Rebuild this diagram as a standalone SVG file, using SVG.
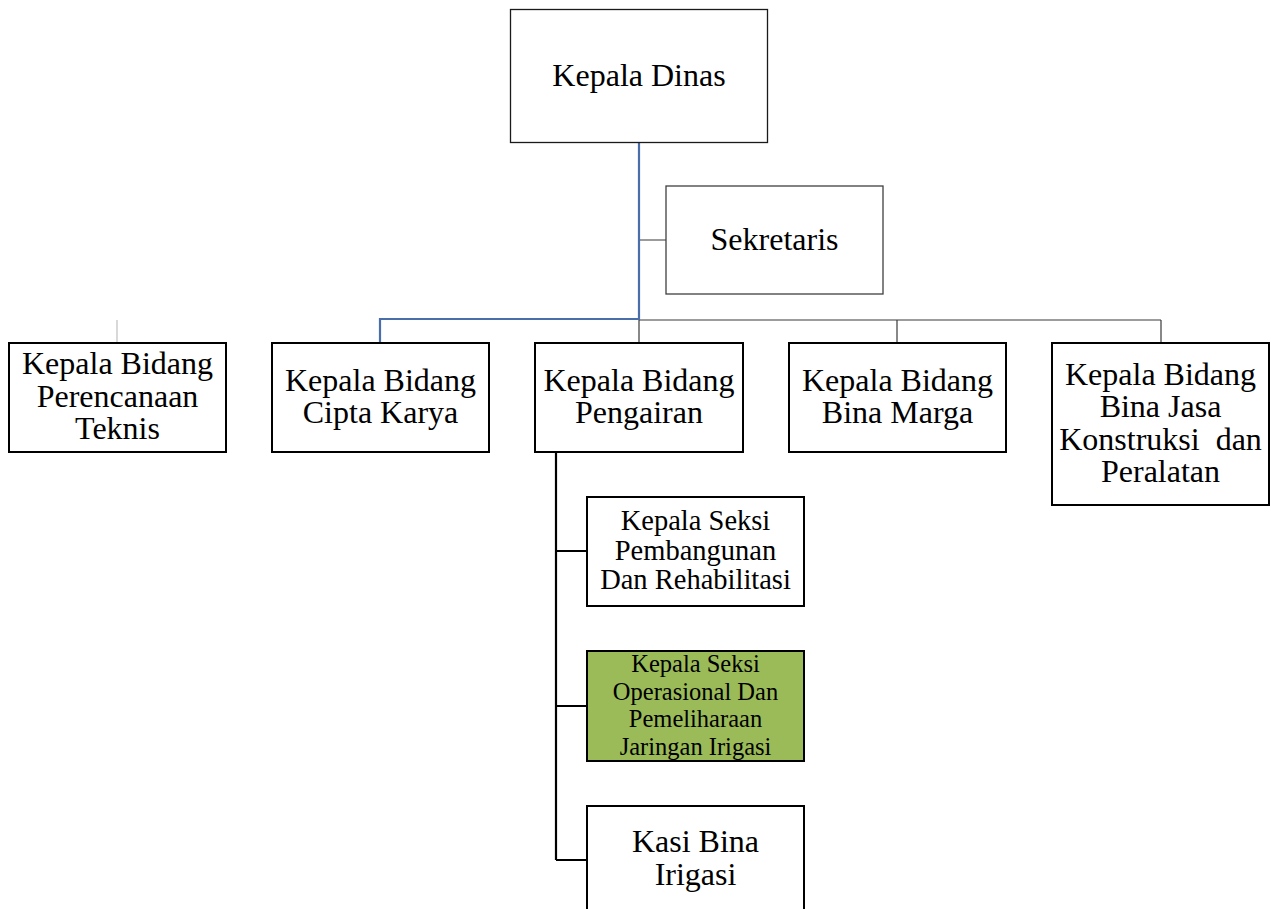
<svg xmlns="http://www.w3.org/2000/svg" width="1271" height="909" viewBox="0 0 1271 909">
  <style>
    text { font-family: "Liberation Serif", "Times New Roman", serif; fill: #000; text-anchor: middle; }
    .t32 { font-size: 32px; }
    .t28 { font-size: 28.5px; }
    .t25 { font-size: 24.5px; }
    .thin { fill: #fff; stroke: #1a1a1a; stroke-width: 1.3; }
    .box { fill: #fff; stroke: #000; stroke-width: 2; }
    .green { fill: #9bbb59; stroke: #000; stroke-width: 2; }
  </style>
  <rect width="1271" height="909" fill="#fff"/>

  <g id="connectors" fill="none">
    <!-- top rail to the heads of division -->
    <path d="M639 320 H1161 M897 320 V343 M1161 320 V343 M639 320 V343" stroke="#3a3a3a" stroke-width="1.2"/>
    <path d="M117 320 V343" stroke="#bfbfbf" stroke-width="1.2"/>
    <path d="M639 240 H666" stroke="#595959" stroke-width="1.2"/>
    <!-- main line from Kepala Dinas -->
    <path d="M639 143 V319 H380 V343" stroke="#4a6ea9" stroke-width="2.2"/>
    <!-- Pengairan sections -->
    <path d="M556 452 V860 M556 551 H587 M556 706 H587 M556 860 H587" stroke="#000" stroke-width="2.2"/>
  </g>

  <g id="kepala-dinas">
    <rect class="thin" x="510.5" y="9.5" width="257" height="133"/>
    <text class="t32" x="639" y="86">Kepala Dinas</text>
  </g>

  <g id="sekretaris">
    <rect x="666" y="186" width="217" height="108" fill="#fff" stroke="#404040" stroke-width="1.3"/>
    <text class="t32" x="774.5" y="250">Sekretaris</text>
  </g>

  <g id="perencanaan">
    <rect class="box" x="9" y="343" width="217" height="109"/>
    <text class="t32" x="117.5" y="374">Kepala Bidang</text>
    <text class="t32" x="117.5" y="407">Perencanaan</text>
    <text class="t32" x="117.5" y="439">Teknis</text>
  </g>

  <g id="cipta-karya">
    <rect class="box" x="272" y="343" width="217" height="109"/>
    <text class="t32" x="380.5" y="391">Kepala Bidang</text>
    <text class="t32" x="380.5" y="423">Cipta Karya</text>
  </g>

  <g id="pengairan">
    <rect class="box" x="535" y="343" width="208" height="109"/>
    <text class="t32" x="639" y="391">Kepala Bidang</text>
    <text class="t32" x="639" y="423">Pengairan</text>
  </g>

  <g id="bina-marga">
    <rect class="box" x="789" y="343" width="217" height="109"/>
    <text class="t32" x="897.5" y="391">Kepala Bidang</text>
    <text class="t32" x="897.5" y="423">Bina Marga</text>
  </g>

  <g id="bina-jasa">
    <rect class="box" x="1052" y="343" width="217" height="162"/>
    <text class="t32" x="1160.5" y="385">Kepala Bidang</text>
    <text class="t32" x="1160.5" y="417">Bina Jasa</text>
    <text class="t32" x="1160.5" y="450" xml:space="preserve">Konstruksi  dan</text>
    <text class="t32" x="1160.5" y="482">Peralatan</text>
  </g>

  <g id="seksi-pembangunan">
    <rect class="box" x="587" y="497" width="217" height="109"/>
    <text class="t28" x="695.5" y="530">Kepala Seksi</text>
    <text class="t28" x="695.5" y="560">Pembangunan</text>
    <text class="t28" x="695.5" y="589">Dan Rehabilitasi</text>
  </g>

  <g id="seksi-operasional">
    <rect class="green" x="587" y="651" width="217" height="110"/>
    <text class="t25" x="695.5" y="672">Kepala Seksi</text>
    <text class="t25" x="695.5" y="700">Operasional Dan</text>
    <text class="t25" x="695.5" y="727">Pemeliharaan</text>
    <text class="t25" x="695.5" y="755">Jaringan Irigasi</text>
  </g>

  <g id="kasi-bina-irigasi">
    <rect class="box" x="587" y="806" width="217" height="120"/>
    <text class="t32" x="695.5" y="852">Kasi Bina</text>
    <text class="t32" x="695.5" y="885">Irigasi</text>
  </g>
</svg>
